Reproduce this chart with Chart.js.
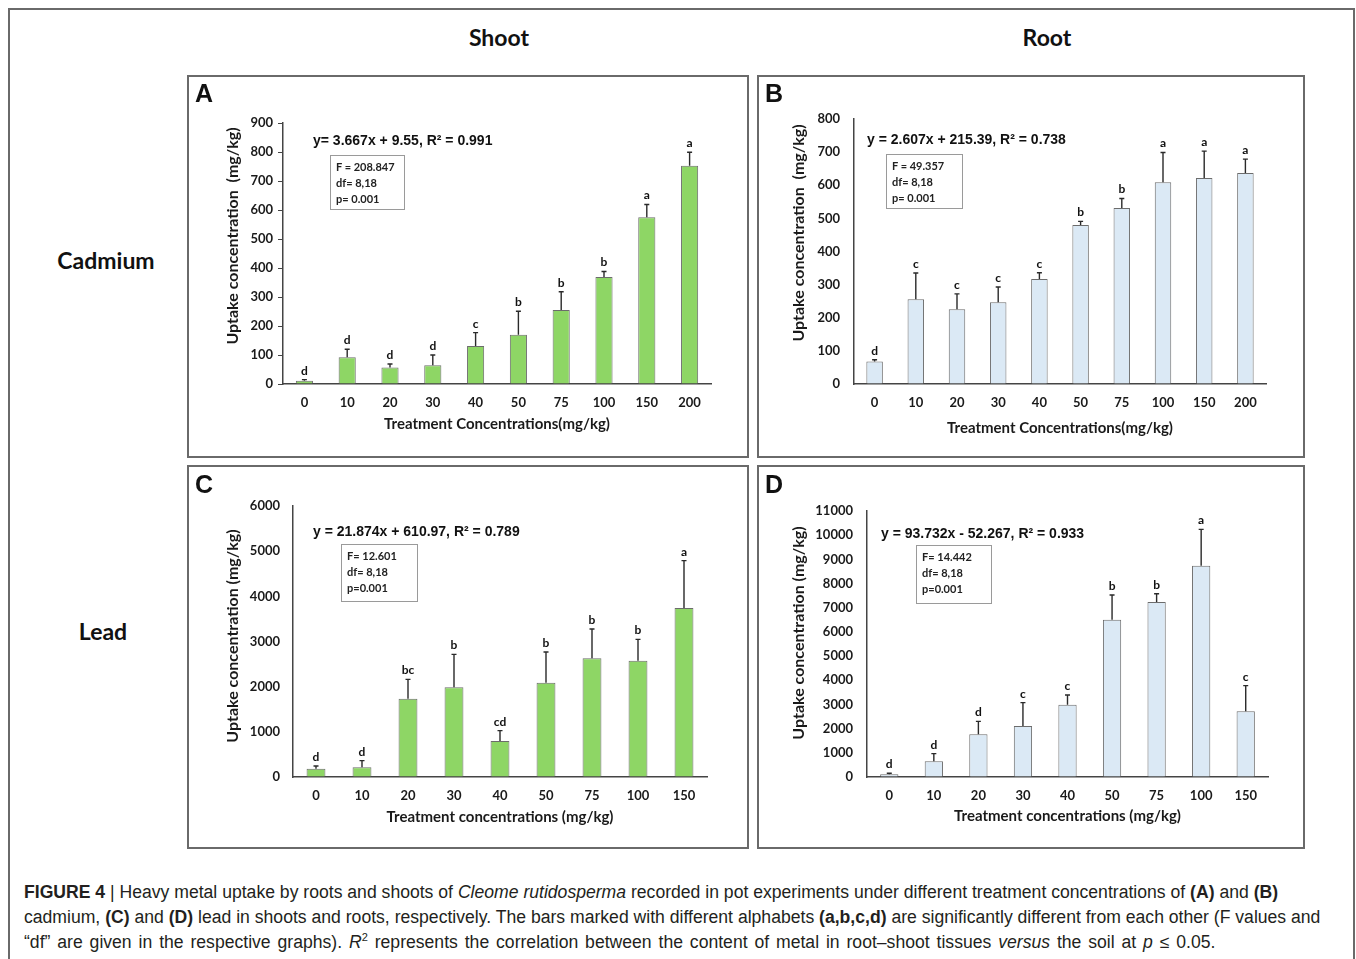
<!DOCTYPE html>
<html>
<head>
<meta charset="utf-8">
<script src="https://cdn.jsdelivr.net/npm/chart.js@4.4.0/dist/chart.umd.min.js"></script>
<style>
  body { margin: 0; background: #fff; }
  #page { position: relative; width: 1356px; height: 959px; overflow: hidden; font-family: Lato, sans-serif; color: #1a1a1a; }
  .frame { position: absolute; left: 8px; top: 8px; width: 1343px; height: 1000px; border: 2px solid #6a6a6a; border-bottom: none; }
  .panel { position: absolute; border: 2px solid #6a6a6a; box-sizing: border-box; }
  canvas { position: absolute; }
  .letter { position: absolute; font: bold 25px "Liberation Sans", Arial, sans-serif; color: #111; }
  .head { position: absolute; font: bold 23px Lato, sans-serif; color: #111; transform: translate(-50%, -50%); white-space: nowrap; }
  .ytitle { position: absolute; font: bold 16px Lato, sans-serif; color: #1a1a1a; white-space: pre; transform: translate(-50%, -50%) rotate(-90deg); }
  .eq { position: absolute; font: bold 14px "Liberation Sans Narrow", "Liberation Sans", sans-serif; font-stretch: condensed; color: #111; white-space: nowrap; transform: translateY(-50%); }
  .stat { position: absolute; border: 1px solid #9a9a9a; box-sizing: border-box; font: bold 11px Lato, sans-serif; line-height: 16px; padding: 3px 0 0 5px; color: #222; }
  .caption { position: absolute; left: 24px; top: 880px; font: 17.6px "Liberation Sans", Arial, sans-serif; line-height: 25px; color: #231f20; white-space: nowrap; }
  .caption sup { font-size: 11px; line-height: 0; vertical-align: 7px; }
</style>
</head>
<body>
<div id="page">
  <div class="frame"></div>

  <div class="head" style="left:499px; top:37px;">Shoot</div>
  <div class="head" style="left:1047px; top:37px;">Root</div>
  <div class="head" style="left:106px; top:260px;">Cadmium</div>
  <div class="head" style="left:103px; top:631px;">Lead</div>

  <div class="panel" style="left:187px; top:75px; width:562px; height:383px;"></div>
  <div class="panel" style="left:757px; top:75px; width:548px; height:383px;"></div>
  <div class="panel" style="left:187px; top:465px; width:562px; height:384px;"></div>
  <div class="panel" style="left:757px; top:465px; width:548px; height:384px;"></div>

  <canvas id="chartA" width="560" height="381" style="left:188px; top:76px;"></canvas>
  <canvas id="chartB" width="546" height="381" style="left:758px; top:76px;"></canvas>
  <canvas id="chartC" width="560" height="382" style="left:188px; top:466px;"></canvas>
  <canvas id="chartD" width="546" height="382" style="left:758px; top:466px;"></canvas>

  <div class="letter" style="left:195px; top:79px;">A</div>
  <div class="letter" style="left:765px; top:79px;">B</div>
  <div class="letter" style="left:195px; top:470px;">C</div>
  <div class="letter" style="left:765px; top:470px;">D</div>

  <div class="ytitle" style="left:231px; top:236px;">Uptake concentration  (mg/kg)</div>
  <div class="ytitle" style="left:797px; top:233px;">Uptake concentration  (mg/kg)</div>
  <div class="ytitle" style="left:231px; top:636px;">Uptake concentration (mg/kg)</div>
  <div class="ytitle" style="left:797px; top:633px;">Uptake concentration (mg/kg)</div>

  <div class="eq" style="left:313px; top:140px;">y= 3.667x + 9.55, R² = 0.991</div>
  <div class="eq" style="left:867px; top:139px;">y = 2.607x + 215.39, R² = 0.738</div>
  <div class="eq" style="left:313px; top:531px;">y = 21.874x + 610.97, R² = 0.789</div>
  <div class="eq" style="left:881px; top:533px;">y = 93.732x - 52.267, R² = 0.933</div>

  <div class="stat" style="left:330px; top:155px; width:75px; height:55px;">F = 208.847<br>df= 8,18<br>p= 0.001</div>
  <div class="stat" style="left:886px; top:154px; width:77px; height:55px;">F = 49.357<br>df= 8,18<br>p= 0.001</div>
  <div class="stat" style="left:341px; top:544px; width:77px; height:58px;">F= 12.601<br>df= 8,18<br>p=0.001</div>
  <div class="stat" style="left:916px; top:545px; width:76px; height:59px;">F= 14.442<br>df= 8,18<br>p=0.001</div>

  <div class="caption">
    <b>FIGURE 4</b> | Heavy metal uptake by roots and shoots of <i>Cleome rutidosperma</i> recorded in pot experiments under different treatment concentrations of <b>(A)</b> and <b>(B)</b><br>
    cadmium, <b>(C)</b> and <b>(D)</b> lead in shoots and roots, respectively. The bars marked with different alphabets <b>(a,b,c,d)</b> are significantly different from each other (F values and<br>
    <span style="word-spacing:2px;">“df” are given in the respective graphs). <i>R</i><sup>2</sup> represents the correlation between the content of metal in root–shoot tissues <i>versus</i> the soil at <i>p</i> ≤ 0.05.</span>
  </div>
</div>

<script>
'use strict';

// treatment levels (mg/kg)
const cdLevels = ['0', '10', '20', '30', '40', '50', '75', '100', '150', '200'];
const pbLevels = ['0', '10', '20', '30', '40', '50', '75', '100', '150'];

// A - cadmium in shoots
const cdShootMean = [11, 92, 57, 65, 131, 170, 255, 369, 575, 753];
const cdShootErr = [4, 28, 12, 35, 46, 81, 63, 19, 44, 46];
const cdShootGroup = ['d', 'd', 'd', 'd', 'c', 'b', 'b', 'b', 'a', 'a'];

// B - cadmium in roots
const cdRootMean = [68, 256, 226, 247, 317, 480, 531, 609, 622, 637];
const cdRootErr = [5, 79, 46, 46, 19, 11, 29, 90, 81, 42];
const cdRootGroup = ['d', 'c', 'c', 'c', 'c', 'b', 'b', 'a', 'a', 'a'];

// C - lead in shoots
const pbShootMean = [185, 214, 1734, 1985, 797, 2089, 2627, 2576, 3742];
const pbShootErr = [59, 148, 428, 731, 229, 679, 650, 472, 1048];
const pbShootGroup = ['d', 'd', 'bc', 'b', 'cd', 'b', 'b', 'b', 'a'];

// D - lead in roots
const pbRootMean = [110, 648, 1764, 2109, 2991, 6506, 7236, 8739, 2715];
const pbRootErr = [42, 317, 538, 965, 400, 1020, 345, 1502, 1062];
const pbRootGroup = ['d', 'd', 'd', 'c', 'c', 'b', 'b', 'a', 'c'];

const GREEN = '#8ed665';
const BLUE = '#dbe9f5';

// draws the upper error whisker and the group letter on top of each bar
const errorBarPlugin = {
  id: 'errorBars',
  afterDatasetsDraw(chart) {
    const ctx = chart.ctx;
    const ds = chart.data.datasets[0];
    const yScale = chart.scales.y;
    const meta = chart.getDatasetMeta(0);
    ctx.save();
    ctx.strokeStyle = '#2a2a2a';
    ctx.lineWidth = 1.4;
    ctx.fillStyle = '#111';
    ctx.font = 'bold 12px Lato, sans-serif';
    ctx.textAlign = 'center';
    ctx.textBaseline = 'bottom';
    meta.data.forEach(function(bar, i) {
      const yTop = yScale.getPixelForValue(ds.data[i] + ds.errors[i]);
      ctx.beginPath();
      ctx.moveTo(bar.x, bar.y);
      ctx.lineTo(bar.x, yTop);
      ctx.moveTo(bar.x - 2.5, yTop);
      ctx.lineTo(bar.x + 2.5, yTop);
      ctx.stroke();
      ctx.fillText(ds.groups[i], bar.x, yTop - 3);
    });
    ctx.restore();
  }
};

function makePanel(canvasId, labels, means, errs, groups, o) {
  return new Chart(document.getElementById(canvasId), {
    type: 'bar',
    data: {
      labels: labels,
      datasets: [{
        data: means,
        errors: errs,
        groups: groups,
        backgroundColor: o.fill,
        borderColor: '#6c6c6c',
        borderWidth: 1,
        categoryPercentage: 1,
        barPercentage: o.barPct
      }]
    },
    options: {
      responsive: false,
      animation: false,
      layout: { padding: { top: o.padTop, right: o.padRight, left: 0, bottom: 0 } },
      plugins: { legend: { display: false }, tooltip: { enabled: false } },
      scales: {
        x: {
          grid: { display: false, drawTicks: false },
          border: { color: '#444', width: 1.5 },
          ticks: { color: '#1a1a1a', padding: 11, font: { family: 'Lato', weight: 'bold', size: 13 } },
          title: {
            display: true,
            text: o.xTitle,
            color: '#1a1a1a',
            font: { family: 'Lato', weight: 'bold', size: 15 },
            padding: { top: 0, bottom: o.titlePad }
          },
          afterFit(scale) { scale.height = o.xH; }
        },
        y: {
          min: 0,
          max: o.max,
          grid: { drawOnChartArea: false, drawTicks: o.ticks, tickLength: 5, color: '#444' },
          border: { color: '#444', width: 1.5 },
          ticks: {
            stepSize: o.step,
            color: '#1a1a1a',
            padding: o.tickPad,
            font: { family: 'Lato', weight: 'bold', size: 13 },
            callback: function(value) { return String(value); }
          },
          afterFit(scale) { scale.width = o.yW; }
        }
      }
    },
    plugins: [errorBarPlugin]
  });
}

makePanel('chartA', cdLevels, cdShootMean, cdShootErr, cdShootGroup, {
  fill: GREEN, barPct: 0.4, max: 900, step: 100, ticks: true, tickPad: 5,
  padTop: 47, padRight: 37, yW: 95, xH: 73, titlePad: 24,
  xTitle: 'Treatment Concentrations(mg/kg)'
});
makePanel('chartB', cdLevels, cdRootMean, cdRootErr, cdRootGroup, {
  fill: BLUE, barPct: 0.4, max: 800, step: 100, ticks: false, tickPad: 14,
  padTop: 43, padRight: 38, yW: 96, xH: 73, titlePad: 20,
  xTitle: 'Treatment Concentrations(mg/kg)'
});
makePanel('chartC', pbLevels, pbShootMean, pbShootErr, pbShootGroup, {
  fill: GREEN, barPct: 0.41, max: 6000, step: 1000, ticks: false, tickPad: 13,
  padTop: 40, padRight: 41, yW: 105, xH: 71, titlePad: 22,
  xTitle: 'Treatment concentrations (mg/kg)'
});
makePanel('chartD', pbLevels, pbRootMean, pbRootErr, pbRootGroup, {
  fill: BLUE, barPct: 0.41, max: 11000, step: 1000, ticks: false, tickPad: 14,
  padTop: 45, padRight: 36, yW: 109, xH: 71, titlePad: 23,
  xTitle: 'Treatment concentrations (mg/kg)'
});
</script>
</body>
</html>
